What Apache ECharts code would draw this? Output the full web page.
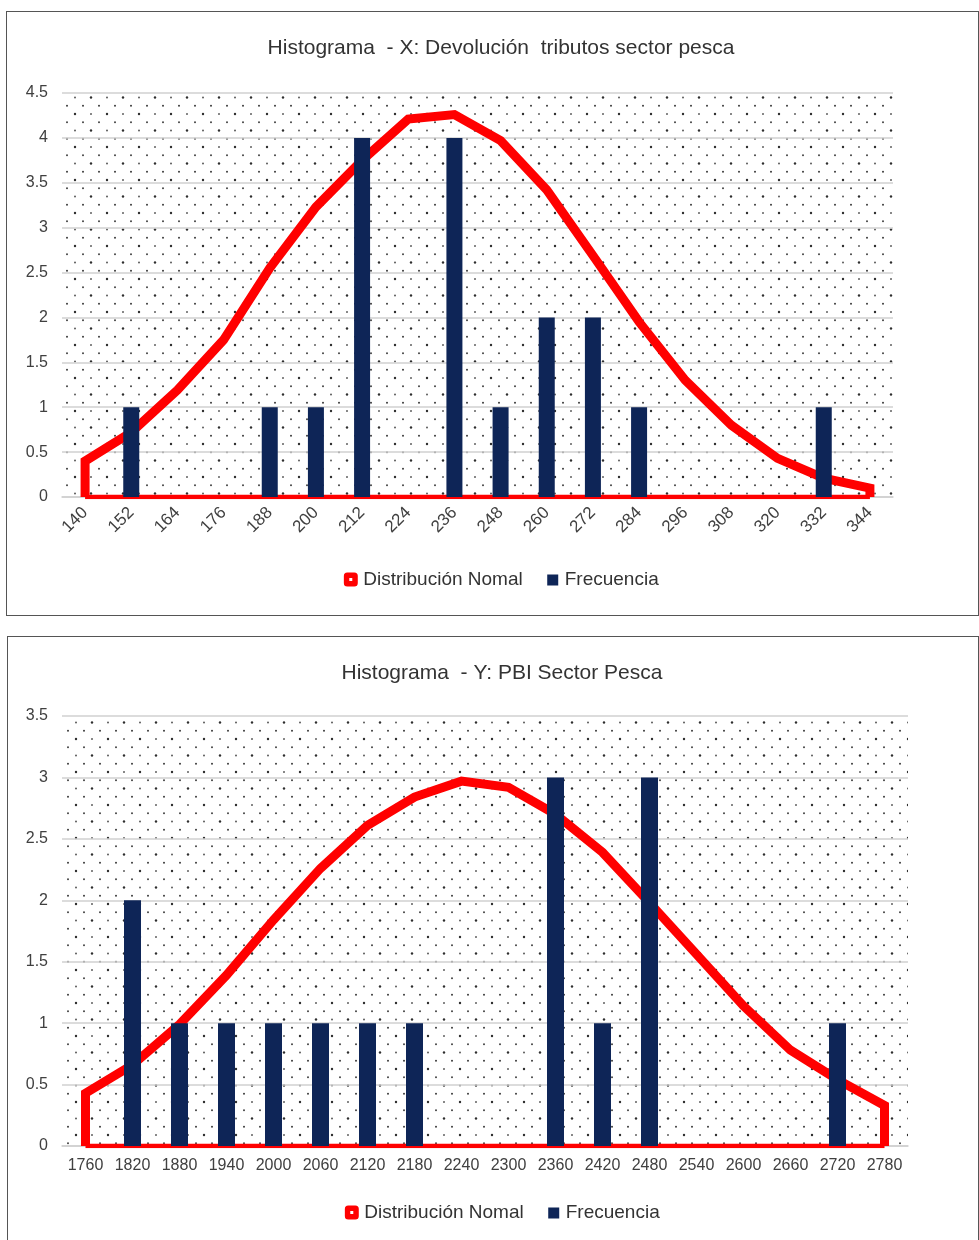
<!DOCTYPE html>
<html><head><meta charset="utf-8">
<script src="https://cdn.jsdelivr.net/npm/echarts@6/dist/echarts.min.js"></script>
<style>
html,body{margin:0;padding:0;background:#fff;width:979px;height:1240px;overflow:hidden}
.box{position:absolute;box-sizing:border-box;border:1px solid #555;background:#fff;overflow:hidden}
#b1{left:6px;top:11px;width:973px;height:605px}
#b2{left:7px;top:636px;width:972px;height:612px}
#c1{position:absolute;left:0;top:0;width:988px;height:603px}
#c2{position:absolute;left:0;top:0;width:988px;height:610px}
</style></head><body>
<div id="b1" class="box"><div id="c1"></div></div>
<div id="b2" class="box"><div id="c2"></div></div>
<script>
// ---- data: chart X ----
const xTitle = 'Histograma  - X: Devolución  tributos sector pesca';
const xCats = ['140','152','164','176','188','200','212','224','236','248','260','272','284','296','308','320','332','344'];
const xFreq = [0,1,0,0,1,1,4,0,4,1,2,2,1,0,0,0,1,0];
const xNormal = [0.40,0.72,1.19,1.75,2.55,3.23,3.75,4.21,4.26,3.97,3.42,2.69,1.95,1.30,0.80,0.43,0.21,0.10];
// ---- data: chart Y ----
const yTitle = 'Histograma  - Y: PBI Sector Pesca';
const yCats = ['1760','1820','1880','1940','2000','2060','2120','2180','2240','2300','2360','2420','2480','2540','2600','2660','2720','2780'];
const yFreq = [0,2,1,1,1,1,1,1,0,0,3,1,3,0,0,0,1,0];
const yNormal = [0.43,0.66,0.99,1.39,1.84,2.26,2.61,2.84,2.97,2.92,2.70,2.39,1.98,1.56,1.14,0.78,0.54,0.33];
const legendNames = ['Distribución Nomal','Frecuencia'];

// dotted pattern for plot background
function makePattern(){
  const c = document.createElement('canvas');
  c.width = 32; c.height = 33;
  const ctx = c.getContext('2d');
  ctx.fillStyle = '#fff'; ctx.fillRect(0,0,32,33);
  const dots = [
    [4,3,1.2,'#2e2e2e'],[20,3,0.95,'#555'],
    [12,11.25,1.0,'#444'],[28,11.25,1.0,'#444'],
    [4,19.5,0.95,'#555'],[20,19.5,1.2,'#2e2e2e'],
    [12,27.75,1.0,'#3c3c3c'],[28,27.75,1.0,'#3c3c3c']
  ];
  dots.forEach(d=>{ctx.fillStyle=d[3];ctx.beginPath();ctx.arc(d[0],d[1],d[2],0,Math.PI*2);ctx.fill();});
  return {image:c, repeat:'repeat'};
}
const pattern = makePattern();

const redIcon = 'image://data:image/svg+xml;charset=utf-8,' + encodeURIComponent("<svg xmlns='http://www.w3.org/2000/svg' width='15' height='15'><rect x='0.5' y='0.5' width='14' height='14' rx='3.5' fill='#ff0000'/><rect x='6' y='6' width='3' height='3' fill='#ffffff'/></svg>");
const navyIcon = 'image://data:image/svg+xml;charset=utf-8,' + encodeURIComponent("<svg xmlns='http://www.w3.org/2000/svg' width='15' height='15'><rect x='2.5' y='2.5' width='11' height='11' fill='#0e2557'/></svg>");

function build(o){
  const n = o.cats.length;
  const curve = [[0,0]].concat(o.normal.map((v,i)=>[i,v])).concat([[n-1,0]]);
  const base = [[0,0],[n-1,0]];
  return {
    animation:false,
    textStyle:{fontFamily:'Liberation Sans, Arial, sans-serif'},
    title:{text:o.title,left:'center',top:o.titleTop,
      textStyle:{fontSize:21,fontWeight:'normal',color:'#333',fontFamily:'Liberation Sans, Arial, sans-serif'}},
    legend:{top:o.legendTop,left:'center',itemWidth:15,itemHeight:15,itemGap:22,
      textStyle:{fontSize:19,color:'#333',fontFamily:'Liberation Sans, Arial, sans-serif'},
      data:[{name:legendNames[0],icon:redIcon},{name:legendNames[1],icon:navyIcon}]},
    grid:Object.assign({show:true,borderWidth:0,backgroundColor:pattern},o.grid),
    xAxis:{type:'category',data:o.cats,boundaryGap:true,
      axisLine:{lineStyle:{color:'#d0d0d0',width:1.5}},axisTick:{show:false},
      axisLabel:{interval:0,rotate:o.rotate,margin:o.labelMargin,fontSize:o.xFont,color:'#404040'}},
    yAxis:{type:'value',min:0,max:o.max,interval:0.5,
      axisLine:{show:false},axisTick:{show:false},
      axisLabel:{fontSize:16,color:'#404040',margin:14},
      splitLine:{lineStyle:{color:'#d0d0d0',width:1.5}}},
    series:[
      {name:legendNames[0],type:'line',data:curve,symbol:'none',z:2,
        lineStyle:{color:'#ff0000',width:9,join:'miter',cap:'butt'},itemStyle:{color:'#ff0000'}},
      {name:legendNames[0],type:'line',data:base,symbol:'none',z:2,
        lineStyle:{color:'#ff0000',width:4.5},itemStyle:{color:'#ff0000'}},
      {name:legendNames[1],type:'bar',data:o.freq,barWidth:o.barWidth,z:3,
        itemStyle:{color:'#0e2557'}}
    ]
  };
}

const ch1 = echarts.init(document.getElementById('c1'));
ch1.setOption(build({title:xTitle,cats:xCats,freq:xFreq,normal:xNormal,max:4.5,
  titleTop:21,legendTop:553,rotate:45,labelMargin:13,xFont:17,barWidth:16,
  grid:{left:55,right:102,top:81,bottom:118}}));
const ch2 = echarts.init(document.getElementById('c2'));
ch2.setOption(build({title:yTitle,cats:yCats,freq:yFreq,normal:yNormal,max:3.5,
  titleTop:21,legendTop:561,rotate:0,labelMargin:12,xFont:16,barWidth:17,
  grid:{left:54,right:88,top:79,bottom:101}}));
</script>
</body></html>
